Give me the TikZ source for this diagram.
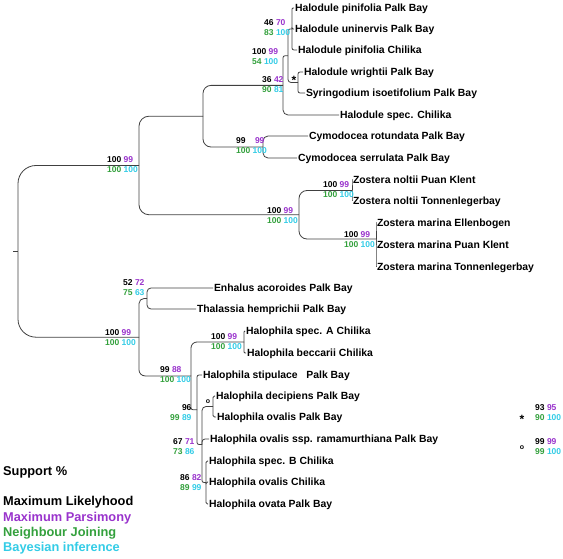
\documentclass[tikz,border=0pt]{standalone}
\usepackage{fontspec}
\setmainfont{Liberation Sans}

\definecolor{mp}{RGB}{153,51,204}
\definecolor{nj}{RGB}{51,160,60}
\definecolor{bi}{RGB}{51,204,230}

\tikzset{
  branch/.style={line width=0.8pt, black!75, rounded corners=#1},
  branch/.default=3pt,
  leaf/.style={anchor=west, inner sep=1pt, outer sep=0pt, text height=7.5pt, text depth=0pt,
    font=\bfseries\fontsize{10.4}{12}\selectfont},
  sup/.style={anchor=west, inner sep=0pt, font=\bfseries\fontsize{8.5}{10}\selectfont},
  legendtext/.style={anchor=west, inner sep=0pt, font=\bfseries\fontsize{12.8}{15}\selectfont},
  sigmark/.style={inner sep=0pt, font=\bfseries\fontsize{#1}{12}\selectfont},
  sigmark/.default=10
}

% support values: name, x, y, ML, MP, NJ, BI
\newcommand{\supnums}[7]{%
  \node[sup] (#1-up) at (#2,#3-5) {#4 \textcolor{mp}{#5}};
  \node[sup] (#1-lo) at (#2,#3+5) {\textcolor{nj}{#6} \textcolor{bi}{#7}};}

\begin{document}
\begin{tikzpicture}[x=1pt,y=-1pt]
    \useasboundingbox (0,0) rectangle (563,559);

    % internal nodes
    \coordinate (root) at (18,251.3);
    \coordinate (tick) at (13,251.3);
    \coordinate (A) at (139,165.5);
    \coordinate (B) at (203,116.2);
    \coordinate (C) at (283,85.4);
    \coordinate (D) at (288,55.75);
    \coordinate (E) at (292,29);
    \coordinate (F) at (298,82.5);
    \coordinate (G) at (263,147);
    \coordinate (H) at (299,214.75);
    \coordinate (I) at (352,190.5);
    \coordinate (J) at (376,239);
    \coordinate (K) at (139,337.2);
    \coordinate (L) at (147,298.5);
    \coordinate (M) at (191,375.9);
    \coordinate (N) at (244,342);
    \coordinate (O) at (197,409.75);
    \coordinate (T) at (202,444.5);
    \coordinate (S) at (213,406.5);
    \coordinate (R) at (206,482.5);

    % leaves
    \node[leaf] (l1) at (294,8) {Halodule pinifolia Palk Bay};
    \node[leaf] (l2) at (294,29) {Halodule uninervis Palk Bay};
    \node[leaf] (l3) at (297,50) {Halodule pinifolia Chilika};
    \node[leaf] (l4) at (303,72) {Halodule wrightii Palk Bay};
    \node[leaf] (l5) at (305,93) {Syringodium isoetifolium Palk Bay};
    \node[leaf] (l6) at (339,115) {Halodule spec. Chilika};
    \node[leaf] (l7) at (308,136) {Cymodocea rotundata Palk Bay};
    \node[leaf] (l8) at (297,158) {Cymodocea serrulata Palk Bay};
    \node[leaf] (l9) at (352,180) {Zostera noltii Puan Klent};
    \node[leaf] (l10) at (352,201) {Zostera noltii Tonnenlegerbay};
    \node[leaf] (l11) at (376,223) {Zostera marina Ellenbogen};
    \node[leaf] (l12) at (376,245) {Zostera marina Puan Klent};
    \node[leaf] (l13) at (376,266.5) {Zostera marina Tonnenlegerbay};
    \node[leaf] (l14) at (213,288) {Enhalus acoroides Palk Bay};
    \node[leaf] (l15) at (196,309) {Thalassia hemprichii Palk Bay};
    \node[leaf] (l16) at (245,331) {Halophila spec. A Chilika};
    \node[leaf] (l17) at (246,353) {Halophila beccarii Chilika};
    \node[leaf] (l18) at (202,375) {Halophila stipulace\ \ \ Palk Bay};
    \node[leaf] (l19) at (215,396) {Halophila decipiens Palk Bay};
    \node[leaf] (l20) at (216,417) {Halophila ovalis Palk Bay};
    \node[leaf] (l21) at (209,439) {Halophila ovalis ssp. ramamurthiana Palk Bay};
    \node[leaf] (l22) at (208,461) {Halophila spec. B Chilika};
    \node[leaf] (l23) at (208,482) {Halophila ovalis Chilika};
    \node[leaf] (l24) at (208,504) {Halophila ovata Palk Bay};

    % branches
    \draw[branch] (tick) -- (root); % root tick
    \draw[branch=18pt] (root) |- (A);
    \draw[branch=18pt] (root) |- (K);
    \draw[branch=10pt] (A) |- (B);
    \draw[branch=10pt] (A) |- (H);
    \draw[branch=8pt] (B) |- (C);
    \draw[branch=8pt] (B) |- (G);
    \draw[branch=2pt] (C) |- (D);
    \draw[branch=5pt] (C) |- (l6);
    \draw[branch=2pt] (D) |- (E);
    \draw[branch=3pt] (D) |- (F);
    \draw[branch=1pt] (E) |- (l1);
    \draw[branch=1pt] (E) |- (l2);
    \draw[branch=2pt] (E) |- (l3);
    \draw[branch=2pt] (F) |- (l4);
    \draw[branch=2pt] (F) |- (l5);
    \draw[branch=5pt] (G) |- (l7);
    \draw[branch=5pt] (G) |- (l8);
    \draw[branch=8pt] (H) |- (I);
    \draw[branch=8pt] (H) |- (J);
    \draw[branch=0.5pt] (I) |- (l9);
    \draw[branch=0.5pt] (I) |- (l10);
    \draw[branch=0.5pt] (J) |- (l11);
    \draw[branch=0.5pt] (J) |- (l12);
    \draw[branch=0.5pt] (J) |- (l13);
    \draw[branch=5pt] (K) |- (L);
    \draw[branch=6pt] (K) |- (M);
    \draw[branch=4pt] (L) |- (l14);
    \draw[branch=4pt] (L) |- (l15);
    \draw[branch=6pt] (M) |- (N);
    \draw[branch=2pt] (M) |- (O);
    \draw[branch=1pt] (N) |- (l16);
    \draw[branch=1pt] (N) |- (l17);
    \draw[branch=2pt] (O) |- (l18);
    \draw[branch=2pt] (O) |- (T);
    \draw[branch=4pt] (T) |- (S);
    \draw[branch=3pt] (T) |- (l21);
    \draw[branch=2pt] (T) |- (R);
    \draw[branch=1.5pt] (S) |- (l19);
    \draw[branch=1.5pt] (S) |- (l20);
    \draw[branch=1.5pt] (R) |- (l22);
    \draw[branch=1.5pt] (R) |- (l23);
    \draw[branch=1.5pt] (R) |- (l24);

    % support values
    \supnums{E}{264}{28}{46}{70}{83}{100}
    \supnums{D}{252}{56.5}{100}{99}{54}{100}
    \supnums{C}{262}{84.5}{36}{42}{90}{81}
    \supnums{G}{236}{146}{99\hspace{7pt}}{99}{100}{100}
    \supnums{A}{107}{165}{100}{99}{100}{100}
    \supnums{I}{323}{189.5}{100}{99}{100}{100}
    \supnums{H}{267}{216}{100}{99}{100}{100}
    \supnums{J}{344}{239.5}{100}{99}{100}{100}
    \supnums{L}{123}{288}{52}{72}{75}{63}
    \supnums{K}{105}{338}{100}{99}{100}{100}
    \supnums{N}{211}{342}{100}{99}{100}{100}
    \supnums{M}{160}{375}{99}{88}{100}{100}
    \supnums{O}{170}{413}{\phantom{99} 96}{}{99}{89}
    \supnums{T}{173}{447}{67}{71}{73}{86}
    \supnums{R}{180}{483}{86}{82}{89}{99}
    \node[sigmark=12] (starF) at (294,80.5) {*}; % star node
    \node[sigmark=7] (ringS) at (208,402) {o}; % ring node

    % key for marked nodes
    \node[sigmark=12] (starkey) at (522,419.5) {*};
    \supnums{starval}{535}{413}{93}{95}{90}{100}
    \node[sigmark=7] (ringkey) at (522,448) {o};
    \supnums{ringval}{535}{447}{99}{99}{99}{100}

    % legend
    \node[legendtext] (title) at (3,472) {Support \%};
    \node[legendtext] (ml) at (3,502.5) {Maximum Likelyhood};
    \node[legendtext, text=mp] (mpl) at (3,518) {Maximum Parsimony};
    \node[legendtext, text=nj] (njl) at (3,533) {Neighbour Joining};
    \node[legendtext, text=bi] (bil) at (3,548) {Bayesian inference};
\end{tikzpicture}
\end{document}
